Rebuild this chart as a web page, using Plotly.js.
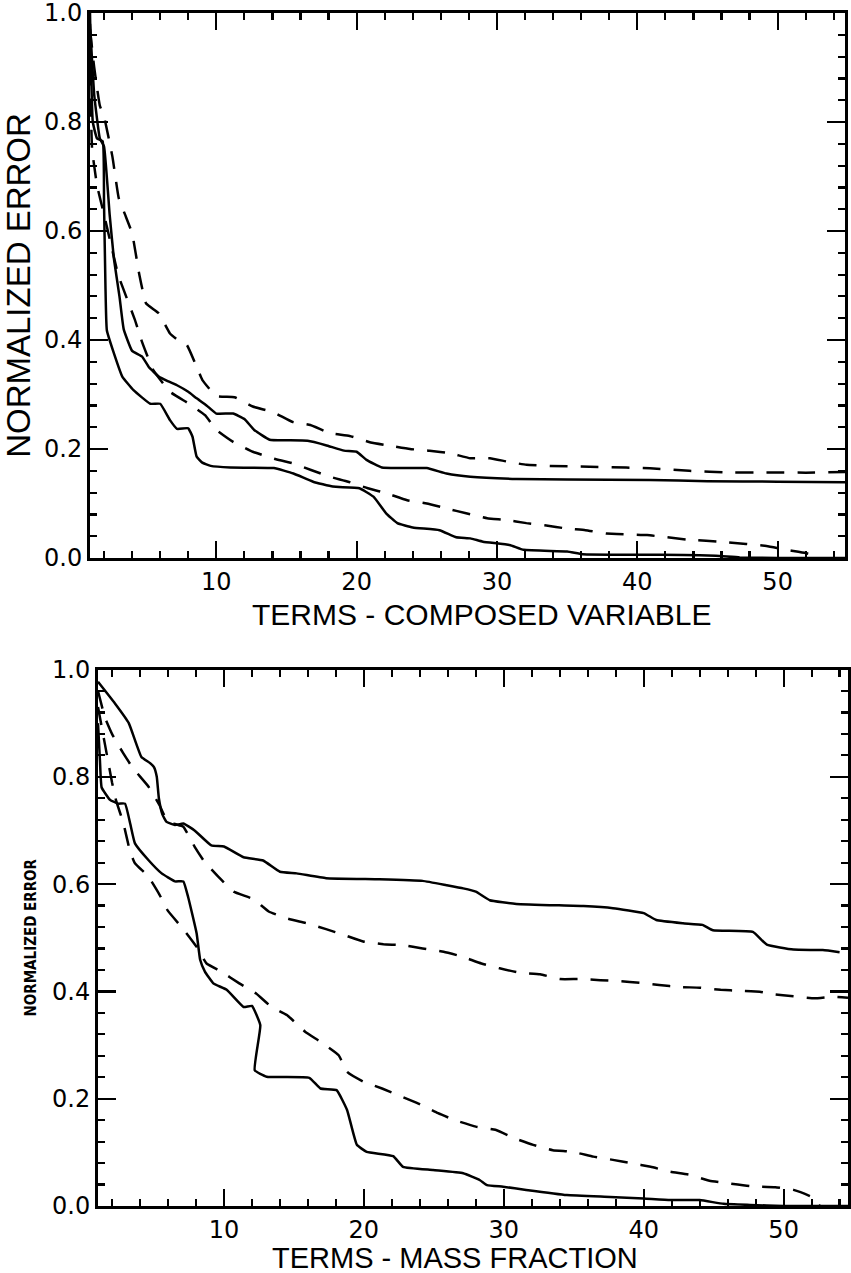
<!DOCTYPE html>
<html><head><meta charset="utf-8">
<script src="https://cdn.plot.ly/plotly-3.0.1.min.js"></script>
<style>
html,body{margin:0;padding:0;background:#fff;}
#chart{width:851px;height:1273px;}
</style>
</head><body><div id="chart"></div>
<script>
// ---- Top panel: TERMS - COMPOSED VARIABLE ----
const topSolidUpperX = [1, 1.3, 1.7, 2.0, 2.4, 2.7, 3.1, 3.4, 4.0, 4.7, 5.2, 5.9, 6.5, 7.2, 8.0, 8.6, 9.3, 10.0, 11.2, 12.0, 12.7, 13.8, 15.0, 16.5, 17.8, 19.1, 20.0, 20.7, 21.8, 23.0, 25.0, 26.4, 28.1, 31.4, 35.0, 40.9, 45.0, 50.0, 54.8];
const topSolidUpperY = [0.98, 0.85, 0.77, 0.755, 0.63, 0.55, 0.48, 0.42, 0.38, 0.37, 0.35, 0.333, 0.325, 0.317, 0.305, 0.293, 0.28, 0.265, 0.265, 0.255, 0.235, 0.217, 0.216, 0.215, 0.207, 0.197, 0.195, 0.18, 0.166, 0.165, 0.165, 0.155, 0.149, 0.145, 0.144, 0.143, 0.141, 0.14, 0.139];

const topSolidLowerX = [1, 1.2, 1.5, 1.9, 2.0, 2.1, 2.2, 2.7, 3.3, 4.1, 5.3, 6.0, 6.7, 7.2, 8.0, 8.3, 8.6, 9.0, 9.6, 11.0, 14.1, 15.5, 16.9, 18.3, 20.2, 21.2, 22.1, 22.9, 24.0, 25.9, 27.1, 28.1, 29.0, 30.9, 31.9, 35.0, 36.1, 40.0, 43.3, 45.6, 47.3, 50.0, 54.8];
const topSolidLowerY = [1.0, 0.8, 0.77, 0.765, 0.65, 0.5, 0.418, 0.376, 0.333, 0.308, 0.283, 0.283, 0.253, 0.237, 0.238, 0.223, 0.186, 0.175, 0.169, 0.166, 0.165, 0.155, 0.14, 0.131, 0.128, 0.1125, 0.082, 0.064, 0.056, 0.051, 0.038, 0.036, 0.03, 0.024, 0.015, 0.012, 0.007, 0.006, 0.0055, 0.004, 0.001, 0.0, 0.0];

const topDashUpperX = [1, 1.3, 1.7, 2.0, 2.6, 3.05, 3.5, 4.0, 4.5, 5.0, 5.9, 6.7, 7.4, 7.9, 8.5, 9.0, 10.0, 11.3, 12.6, 14.1, 15.4, 16.7, 18.1, 19.5, 21.0, 22.4, 23.8, 25.2, 26.7, 28.1, 29.5, 30.7, 32.1, 33.8, 36.6, 39.2, 40.9, 43.7, 46.6, 49.4, 52.0, 54.8];
const topDashUpperY = [0.97, 0.9, 0.83, 0.81, 0.736, 0.66, 0.63, 0.596, 0.522, 0.467, 0.449, 0.412, 0.397, 0.391, 0.357, 0.327, 0.297, 0.295, 0.278, 0.267, 0.25, 0.244, 0.229, 0.224, 0.212, 0.206, 0.2, 0.197, 0.192, 0.183, 0.183, 0.177, 0.171, 0.169, 0.1675, 0.166, 0.1645, 0.16, 0.157, 0.157, 0.1566, 0.158];

const topDashLowerX = [1, 1.15, 1.5, 2.0, 2.5, 3.0, 3.5, 4.2, 4.7, 5.5, 6.7, 8.0, 9.2, 10.0, 11.2, 12.6, 14.0, 15.4, 16.8, 18.1, 19.4, 20.8, 22.1, 23.6, 25.0, 26.4, 27.8, 29.3, 30.6, 32.1, 33.4, 35.0, 36.3, 37.8, 40.7, 43.5, 46.3, 49.2, 50.6, 52.0, 53.0];
const topDashLowerY = [0.9, 0.75, 0.684, 0.63, 0.575, 0.52, 0.485, 0.437, 0.397, 0.345, 0.305, 0.284, 0.262, 0.235, 0.213, 0.195, 0.183, 0.174, 0.161, 0.149, 0.14, 0.128, 0.119, 0.106, 0.1, 0.091, 0.082, 0.073, 0.07, 0.064, 0.06, 0.054, 0.051, 0.045, 0.042, 0.034, 0.029, 0.022, 0.015, 0.009, 0.003];

// ---- Bottom panel: TERMS - MASS FRACTION ----
const botSolidUpperX = [1, 2.2, 3.2, 4.1, 4.7, 5.0, 5.2, 5.35, 5.6, 5.9, 6.5, 7.1, 7.9, 9.1, 10.0, 11.4, 12.8, 14.0, 15.2, 17.3, 21.1, 24.2, 25.9, 27.1, 28.0, 29.0, 30.9, 35.7, 37.8, 40.0, 40.9, 42.8, 44.2, 44.95, 47.8, 48.8, 50.7, 52.8, 54.0];
const botSolidUpperY = [0.977, 0.937, 0.9, 0.837, 0.826, 0.818, 0.80, 0.76, 0.73, 0.716, 0.71, 0.713, 0.70, 0.672, 0.67, 0.65, 0.644, 0.623, 0.62, 0.611, 0.609, 0.606, 0.598, 0.592, 0.586, 0.57, 0.563, 0.559, 0.555, 0.546, 0.533, 0.527, 0.524, 0.514, 0.511, 0.487, 0.478, 0.477, 0.473];

const botSolidLowerX = [1, 1.14, 1.26, 1.86, 2.45, 2.93, 3.3, 3.64, 4.6, 5.55, 6.5, 7.1, 7.45, 8.05, 8.3, 8.64, 9.24, 10.2, 11.4, 12.0, 12.6, 12.2, 13.05, 16.1, 16.9, 18.05, 18.8, 19.5, 20.2, 22.1, 22.8, 24.95, 27.1, 28.3, 28.8, 29.95, 31.6, 34.5, 37.6, 40.0, 41.9, 44.0, 45.7, 47.6, 50.0, 54.6];
const botSolidLowerY = [0.9, 0.83, 0.78, 0.757, 0.75, 0.75, 0.713, 0.676, 0.645, 0.62, 0.605, 0.605, 0.575, 0.508, 0.459, 0.437, 0.415, 0.403, 0.371, 0.373, 0.337, 0.253, 0.241, 0.239, 0.219, 0.216, 0.179, 0.114, 0.101, 0.093, 0.073, 0.067, 0.061, 0.048, 0.039, 0.036, 0.03, 0.0205, 0.017, 0.014, 0.011, 0.011, 0.004, 0.002, 0.0, 0.0];

const botDashUpperX = [1, 1.5, 2.0, 2.8, 3.5, 4.6, 5.4, 5.9, 6.5, 7.1, 7.9, 8.6, 9.7, 10.7, 12.1, 13.2, 14.5, 15.9, 17.3, 18.6, 19.95, 21.4, 22.8, 24.2, 25.7, 27.0, 28.4, 29.7, 31.1, 32.6, 34.0, 35.4, 36.9, 38.3, 39.7, 41.1, 42.6, 44.0, 45.5, 46.9, 48.3, 49.2, 50.7, 52.2, 53.5, 54.6];
const botDashUpperY = [0.96, 0.91, 0.88, 0.844, 0.816, 0.782, 0.747, 0.72, 0.712, 0.707, 0.67, 0.642, 0.611, 0.586, 0.572, 0.549, 0.536, 0.527, 0.516, 0.505, 0.493, 0.488, 0.486, 0.48, 0.474, 0.465, 0.452, 0.443, 0.435, 0.432, 0.423, 0.423, 0.421, 0.419, 0.416, 0.412, 0.408, 0.407, 0.403, 0.401, 0.3995, 0.395, 0.391, 0.387, 0.39, 0.388];

const botDashLowerX = [1, 1.5, 2.0, 2.3, 2.8, 3.3, 3.64, 4.6, 5.4, 6.0, 7.1, 8.05, 8.76, 9.8, 11.1, 12.3, 13.4, 14.5, 15.8, 16.9, 18.2, 18.8, 19.95, 21.3, 22.7, 23.9, 25.3, 26.5, 28.0, 29.4, 30.8, 32.1, 33.5, 34.9, 36.4, 37.8, 39.1, 40.5, 41.9, 43.3, 44.7, 46.1, 47.6, 49.4, 50.7, 52.0, 52.6];
const botDashLowerY = [0.93, 0.86, 0.79, 0.755, 0.715, 0.66, 0.639, 0.614, 0.58, 0.55, 0.516, 0.483, 0.452, 0.437, 0.415, 0.396, 0.371, 0.356, 0.325, 0.306, 0.281, 0.25, 0.232, 0.219, 0.204, 0.191, 0.173, 0.16, 0.148, 0.142, 0.126, 0.114, 0.104, 0.101, 0.092, 0.086, 0.08, 0.073, 0.064, 0.058, 0.047, 0.042, 0.037, 0.035, 0.03, 0.017, 0.0];

// ---- axis text ----
const yTitle = 'NORMALIZED ERROR';
const xTitleTop = 'TERMS - COMPOSED VARIABLE';
const xTitleBot = 'TERMS - MASS FRACTION';

const W = 851, H = 1273;
const FONT = 'Liberation Sans, Arial, sans-serif';
const TICKFONT = 'DejaVu Sans, Liberation Sans, sans-serif';
const solid = {color: '#000', width: 2.5, shape: 'spline', smoothing: 0.35};
const dashed = {color: '#000', width: 2.5, dash: '18px,13px', shape: 'spline', smoothing: 0.35};

function tr(x, y, line, xa, ya) {
  return {x: x, y: y, mode: 'lines', line: line, xaxis: xa, yaxis: ya, hoverinfo: 'skip', showlegend: false};
}
const data = [
  tr(topSolidUpperX, topSolidUpperY, solid, 'x', 'y'),
  tr(topSolidLowerX, topSolidLowerY, solid, 'x', 'y'),
  tr(topDashUpperX, topDashUpperY, dashed, 'x', 'y'),
  tr(topDashLowerX, topDashLowerY, dashed, 'x', 'y'),
  tr(botSolidUpperX, botSolidUpperY, solid, 'x2', 'y2'),
  tr(botSolidLowerX, botSolidLowerY, solid, 'x2', 'y2'),
  tr(botDashUpperX, botDashUpperY, dashed, 'x2', 'y2'),
  tr(botDashLowerX, botDashLowerY, dashed, 'x2', 'y2')
];

function xax(dom, rng, anchor) {
  return {
    domain: dom, range: rng, anchor: anchor, tickmode: 'linear', tick0: 0, dtick: 10,
    ticks: 'inside', ticklen: 17, tickwidth: 2.2, tickcolor: '#000',
    minor: {tickmode: 'linear', tick0: 0, dtick: 2, ticks: 'inside', ticklen: 7, tickwidth: 2.2, tickcolor: '#000', showgrid: false},
    showline: true, linewidth: 3, linecolor: '#000', mirror: 'allticks',
    showgrid: false, zeroline: false, ticklabeloverflow: 'allow',
    tickfont: {family: TICKFONT, size: 24, color: '#000'}
  };
}
function yax(dom, anchor, titleFont, standoff) {
  return {
    domain: dom, range: [0, 1], anchor: anchor, tickmode: 'linear', tick0: 0, dtick: 0.2, tickformat: '.1f',
    ticks: 'inside', ticklen: 18, tickwidth: 2.2, tickcolor: '#000',
    minor: {tickmode: 'linear', tick0: 0, dtick: 0.04, ticks: 'inside', ticklen: 7, tickwidth: 2.2, tickcolor: '#000', showgrid: false},
    showline: true, linewidth: 3, linecolor: '#000', mirror: 'allticks',
    showgrid: false, zeroline: false, ticklabeloverflow: 'allow',
    tickfont: {family: TICKFONT, size: 24, color: '#000'},
    title: {text: yTitle, font: titleFont, standoff: standoff}
  };
}

const layout = {
  width: W, height: H,
  margin: {l: 0, r: 0, t: 0, b: 0},
  paper_bgcolor: '#fff', plot_bgcolor: '#fff',
  showlegend: false,
  xaxis: xax([90 / W, 845 / W], [1, 54.8], 'y'),
  yaxis: yax([1 - 558 / H, 1 - 13 / H], 'x', {family: FONT, size: 33, color: '#000'}, 4),
  xaxis2: xax([98 / W, 848 / W], [1, 54.6], 'y2'),
  yaxis2: yax([1 - 1206 / H, 1 - 669.5 / H], 'x2', {family: 'Liberation Sans Narrow, DejaVu Sans Condensed, sans-serif', size: 15, color: '#000', weight: 'bold'}, 12),
  annotations: [
    {text: xTitleTop, xref: 'paper', yref: 'paper', x: 482 / W, y: 1 - 614 / H, xanchor: 'center', yanchor: 'middle', showarrow: false,
     font: {family: FONT, size: 30, color: '#000'}},
    {text: xTitleBot, xref: 'paper', yref: 'paper', x: 455 / W, y: 1 - 1258 / H, xanchor: 'center', yanchor: 'middle', showarrow: false,
     font: {family: FONT, size: 29, color: '#000'}}
  ]
};

Plotly.newPlot('chart', data, layout, {staticPlot: true, displayModeBar: false});
</script>
</body></html>
